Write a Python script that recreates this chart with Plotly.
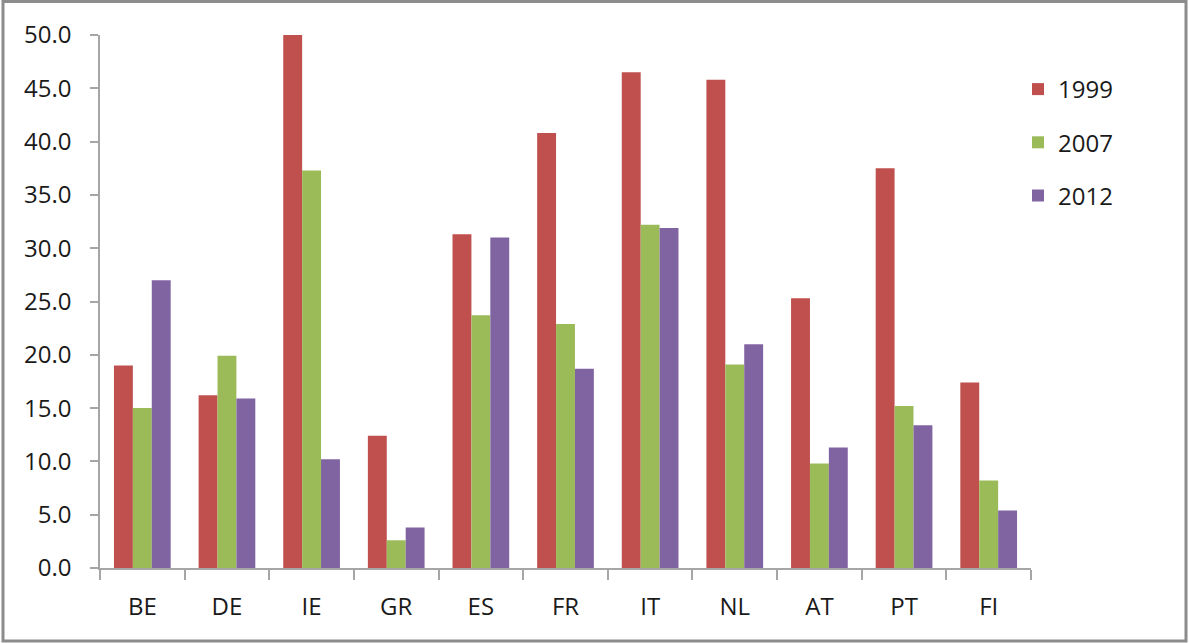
import plotly.graph_objects as go

countries = ["BE", "DE", "IE", "GR", "ES", "FR", "IT", "NL", "AT", "PT", "FI"]
years = ["1999", "2007", "2012"]
v1999 = [19.0, 16.2, 50.0, 12.4, 31.3, 40.8, 46.5, 45.8, 25.3, 37.5, 17.4]
v2007 = [15.0, 19.9, 37.3, 2.6, 23.7, 22.9, 32.2, 19.1, 9.8, 15.2, 8.2]
v2012 = [27.0, 15.9, 10.2, 3.8, 31.0, 18.7, 31.9, 21.0, 11.3, 13.4, 5.4]
colors = ["#C0504D", "#9BBB59", "#8064A2"]

W, H = 1189, 643
ML, MR, MT, MB = 100, 158, 35, 75
FONT = "Open Sans"
FS = 24
TXT = "#1a1a1a"

fig = go.Figure()
for name, vals, col in zip(years, [v1999, v2007, v2012], colors):
    fig.add_trace(go.Bar(
        x=countries, y=vals, name=name, legendgroup=name,
        marker=dict(color=col, line=dict(width=0)),
    ))

# outer frame around the whole chart, expressed in paper units
pw, ph = W - ML - MR, H - MT - MB
def px_x(p):
    return (p - ML) / pw
def px_y(p):
    return (H - MB - p) / ph

fig.add_shape(type="rect", xref="paper", yref="paper",
              x0=px_x(3), x1=px_x(1186), y0=px_y(641), y1=px_y(1.5),
              line=dict(color="#8c8c8c", width=3), fillcolor="rgba(0,0,0,0)",
              layer="above")

axis_col = "#a6a6a6"
fig.update_layout(
    width=W, height=H,
    margin=dict(l=ML, r=MR, t=MT, b=MB, pad=0),
    paper_bgcolor="white", plot_bgcolor="white",
    barmode="group", bargap=0.33, bargroupgap=0,
    font=dict(family=FONT, size=FS, color=TXT),
    showlegend=True,
    legend=dict(x=px_x(1018), y=px_y(67), xanchor="left", yanchor="top",
                traceorder="grouped", tracegroupgap=19,
                font=dict(family=FONT, size=FS, color=TXT),
                itemwidth=30, bgcolor="rgba(0,0,0,0)"),
    xaxis=dict(type="category", showline=True, linecolor=axis_col, linewidth=1.5,
               ticks="outside", tickson="boundaries", ticklen=10, tickcolor=axis_col,
               tickwidth=1.5, showgrid=False, zeroline=False,
               tickfont=dict(family=FONT, size=FS, color=TXT),
               ticklabelstandoff=16),
    yaxis=dict(range=[0, 50], dtick=5, tick0=0, tickformat=".1f",
               showline=True, linecolor=axis_col, linewidth=1.5,
               ticks="outside", ticklen=8, tickcolor=axis_col, tickwidth=1.5,
               showgrid=False, zeroline=False,
               tickfont=dict(family=FONT, size=FS, color=TXT),
               ticklabelstandoff=14),
)

fig.write_html("out.html")
